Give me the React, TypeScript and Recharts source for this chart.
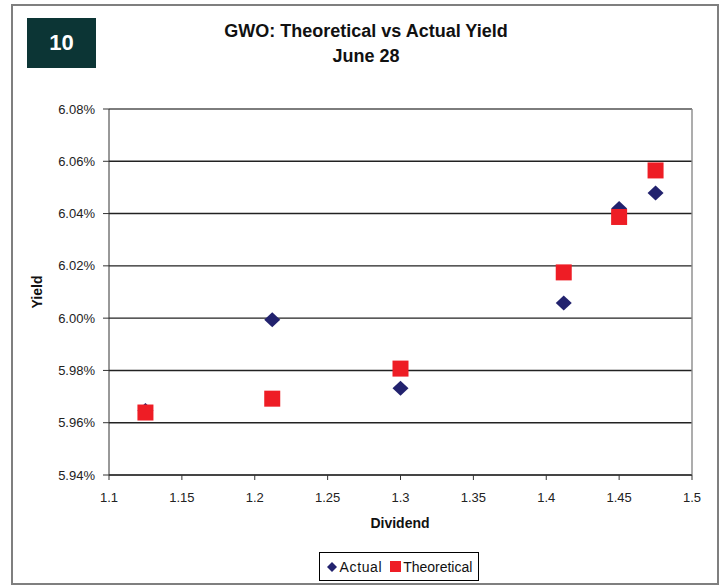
import { ScatterChart, Scatter, XAxis, YAxis, CartesianGrid, ReferenceLine } from "recharts"

const dividends = [1.125, 1.212, 1.3, 1.412, 1.45, 1.475]
const actualYield = [5.9647, 5.9994, 5.9732, 6.0058, 6.0419, 6.0479]
const theoreticalYield = [5.9639, 5.9692, 5.9807, 6.0175, 6.0387, 6.0565]
const xTicks = [1.1, 1.15, 1.2, 1.25, 1.3, 1.35, 1.4, 1.45, 1.5]
const yTicks = [5.94, 5.96, 5.98, 6.0, 6.02, 6.04, 6.06, 6.08]

const actualData = dividends.map((d, i) => ({ dividend: d, yield: actualYield[i] }))
const theoreticalData = dividends.map((d, i) => ({ dividend: d, yield: theoreticalYield[i] }))

const NAVY = "#22226e"
const RED = "#ee1d25"
const FONT = "'Liberation Sans', Arial, sans-serif"

const DiamondShape = (props: any) => {
  const { cx, cy } = props
  return (
    <polygon
      points={`${cx},${cy - 7.5} ${cx + 8},${cy} ${cx},${cy + 7.5} ${cx - 8},${cy}`}
      fill={NAVY}
    />
  )
}

const SquareShape = (props: any) => {
  const { cx, cy } = props
  return <rect x={cx - 8} y={cy - 8} width={16} height={16} fill={RED} />
}

export default function App() {
  return (
    <div
      style={{
        position: "absolute",
        left: 0,
        top: 0,
        width: 722,
        height: 586,
        background: "#fff",
        fontFamily: FONT,
      }}
    >
      {/* outer frame */}
      <div
        style={{
          position: "absolute",
          left: 11,
          top: 4,
          width: 704,
          height: 577,
          border: "2px solid #7f7f7f",
        }}
      />
      {/* slide number badge */}
      <div
        style={{
          position: "absolute",
          left: 27,
          top: 18,
          width: 69,
          height: 50,
          background: "#0c3535",
          color: "#fff",
          fontWeight: "bold",
          fontSize: 22,
          display: "flex",
          alignItems: "center",
          justifyContent: "center",
        }}
      >
        10
      </div>

      <ScatterChart
        width={722}
        height={586}
        margin={{ top: 109, right: 30, bottom: 71, left: 39 }}
        style={{ position: "absolute", left: 0, top: 0 }}
      >
        <CartesianGrid vertical={false} stroke="#222" strokeWidth={1.4} />
        <XAxis
          type="number"
          dataKey="dividend"
          domain={[1.1, 1.5]}
          ticks={xTicks}
          height={40}
          tickSize={5}
          tickMargin={13}
          axisLine={{ stroke: "#333" }}
          tickLine={{ stroke: "#333" }}
          tick={{ fill: "#222", fontSize: 13, fontFamily: FONT }}
          interval={0}
        />
        <YAxis
          type="number"
          dataKey="yield"
          domain={[5.94, 6.08]}
          ticks={yTicks}
          width={70}
          tickSize={6}
          tickMargin={8}
          axisLine={{ stroke: "#333" }}
          tickLine={{ stroke: "#333" }}
          tick={{ fill: "#222", fontSize: 13, fontFamily: FONT }}
          tickFormatter={(v: number) => `${v.toFixed(2)}%`}
          interval={0}
        />
        <ReferenceLine y={6.08} stroke="#8a8a8a" strokeWidth={1.4} />
        <ReferenceLine x={1.5} stroke="#8a8a8a" strokeWidth={1.4} />
        <Scatter name="Actual" data={actualData} shape={DiamondShape} isAnimationActive={false} />
        <Scatter name="Theoretical" data={theoreticalData} shape={SquareShape} isAnimationActive={false} />
      </ScatterChart>

      {/* titles */}
      <div
        style={{
          position: "absolute",
          left: 166,
          width: 400,
          top: 19,
          textAlign: "center",
          fontWeight: "bold",
          fontSize: 18,
          lineHeight: "25px",
          color: "#111",
        }}
      >
        GWO: Theoretical vs Actual Yield
        <br />
        June 28
      </div>

      {/* axis titles */}
      <div
        style={{
          position: "absolute",
          left: 300,
          width: 200,
          top: 515,
          textAlign: "center",
          fontWeight: "bold",
          fontSize: 14,
          color: "#111",
        }}
      >
        Dividend
      </div>
      <div
        style={{
          position: "absolute",
          left: 37 - 40,
          top: 292 - 9,
          width: 80,
          height: 18,
          lineHeight: "18px",
          textAlign: "center",
          fontWeight: "bold",
          fontSize: 14,
          color: "#111",
          transform: "rotate(-90deg)",
        }}
      >
        Yield
      </div>

      {/* legend */}
      <div
        style={{
          position: "absolute",
          left: 319,
          top: 552,
          width: 158,
          height: 27,
          border: "1px solid #000",
          display: "flex",
          alignItems: "center",
          justifyContent: "center",
          fontSize: 14,
          color: "#111",
          gap: 2,
        }}
      >
        <svg width={12} height={12}>
          <polygon points="6,1 11,6 6,11 1,6" fill={NAVY} />
        </svg>
        <span style={{ letterSpacing: 0.6, marginRight: 6 }}>Actual</span>
        <svg width={11} height={11}>
          <rect x={0} y={0} width={11} height={11} fill={RED} />
        </svg>
        <span>Theoretical</span>
      </div>
    </div>
  )
}
